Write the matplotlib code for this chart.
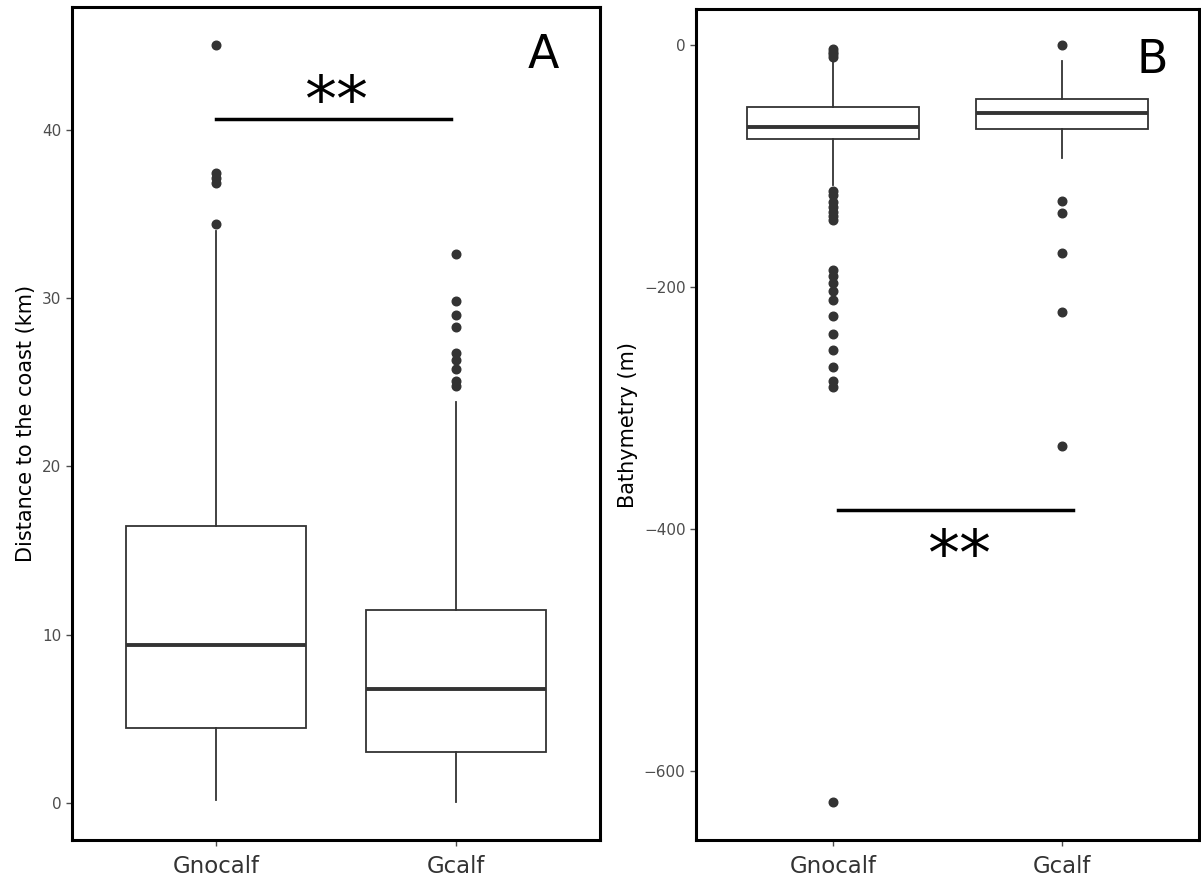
import matplotlib
matplotlib.use('Agg')
import matplotlib.pyplot as plt

# Panel A: distance to the coast (km)
groups = ['Gnocalf', 'Gcalf']
dist_q1 = [4.45, 3.03]
dist_med = [9.38, 6.77]
dist_q3 = [16.44, 11.45]
dist_lo = [0.18, 0.05]
dist_hi = [33.96, 23.8]
dist_fliers = [
    [45.05, 37.45, 37.15, 36.85, 34.42],
    [32.6, 29.82, 29.02, 28.27, 26.71, 26.35, 25.76, 25.06, 24.76],
]

# Panel B: bathymetry (m)
bath_q1 = [-77.8, -69.6]
bath_med = [-67.4, -55.9]
bath_q3 = [-50.9, -44.3]
bath_lo = [-116.0, -93.0]
bath_hi = [-11.0, -13.0]
bath_fliers = [
    [-3.5, -5.5, -7.5, -10.0, -121, -124, -130, -134, -138, -141, -145,
     -186, -191, -197, -203, -211, -224, -239, -252, -266, -278, -283, -626],
    [0.0, -129, -139, -172, -221, -331],
]

# significance bars: (x0, x1, y), star position
sig_a = (1.0, 1.98, 40.65)
sig_a_star = (1.5, 41.6)
sig_b = (1.02, 2.05, -384.3)
sig_b_star = (1.55, -423)

EDGE = '#333333'


def make_stats(q1, med, q3, lo, hi, fliers):
    stats = []
    for i in range(len(q1)):
        stats.append(dict(q1=q1[i], med=med[i], q3=q3[i],
                          whislo=lo[i], whishi=hi[i], fliers=fliers[i]))
    return stats


def draw_panel(ax, stats, ylabel, yticks, ylim, letter, letter_x, letter_y):
    ax.bxp(stats, positions=[1, 2], widths=0.75, showcaps=False,
           patch_artist=True,
           boxprops=dict(facecolor='white', edgecolor=EDGE, linewidth=1.3),
           medianprops=dict(color=EDGE, linewidth=2.8),
           whiskerprops=dict(color=EDGE, linewidth=1.3),
           flierprops=dict(marker='o', markerfacecolor=EDGE, markeredgecolor=EDGE,
                           markersize=6.2, linestyle='none'))
    ax.set_xlim(0.4, 2.6)
    ax.set_ylim(*ylim)
    ax.set_xticks([1, 2])
    ax.set_xticklabels(groups, fontsize=16.5, color='#333333')
    ax.set_yticks(yticks)
    ax.set_yticklabels([str(t).replace('-', '\u2212') for t in yticks],
                       fontsize=11, color='#4d4d4d')
    ax.tick_params(axis='both', direction='out', length=4, width=1, color='#4d4d4d')
    ax.tick_params(axis='x', pad=7)
    ax.set_ylabel(ylabel, fontsize=15, color='black')
    for sp in ax.spines.values():
        sp.set_linewidth(2.2)
        sp.set_color('black')
    ax.text(letter_x, letter_y, letter, fontsize=33, ha='right', va='center')


fig = plt.figure(figsize=(12.01, 8.83), dpi=100)
ax_a = fig.add_axes([71.7 / 1201, 43 / 883, (600 - 71.7) / 1201, (883 - 43 - 7) / 883])
ax_b = fig.add_axes([696 / 1201, 43 / 883, (1199 - 696) / 1201, (883 - 43 - 9.3) / 883])

draw_panel(ax_a, make_stats(dist_q1, dist_med, dist_q3, dist_lo, dist_hi, dist_fliers),
           'Distance to the coast (km)', [0, 10, 20, 30, 40], (-2.2, 47.3), 'A', 2.43, 44.4)
ax_a.plot([sig_a[0], sig_a[1]], [sig_a[2], sig_a[2]], color='black', linewidth=2.5)
ax_a.text(sig_a_star[0], sig_a_star[1], '**', fontsize=46, ha='center', va='center')

draw_panel(ax_b, make_stats(bath_q1, bath_med, bath_q3, bath_lo, bath_hi, bath_fliers),
           'Bathymetry (m)', [0, -200, -400, -600], (-657, 29.5), 'B', 2.465, -13)
ax_b.plot([sig_b[0], sig_b[1]], [sig_b[2], sig_b[2]], color='black', linewidth=2.5)
ax_b.text(sig_b_star[0], sig_b_star[1], '**', fontsize=46, ha='center', va='center')

fig.savefig('out.png', dpi=100)
